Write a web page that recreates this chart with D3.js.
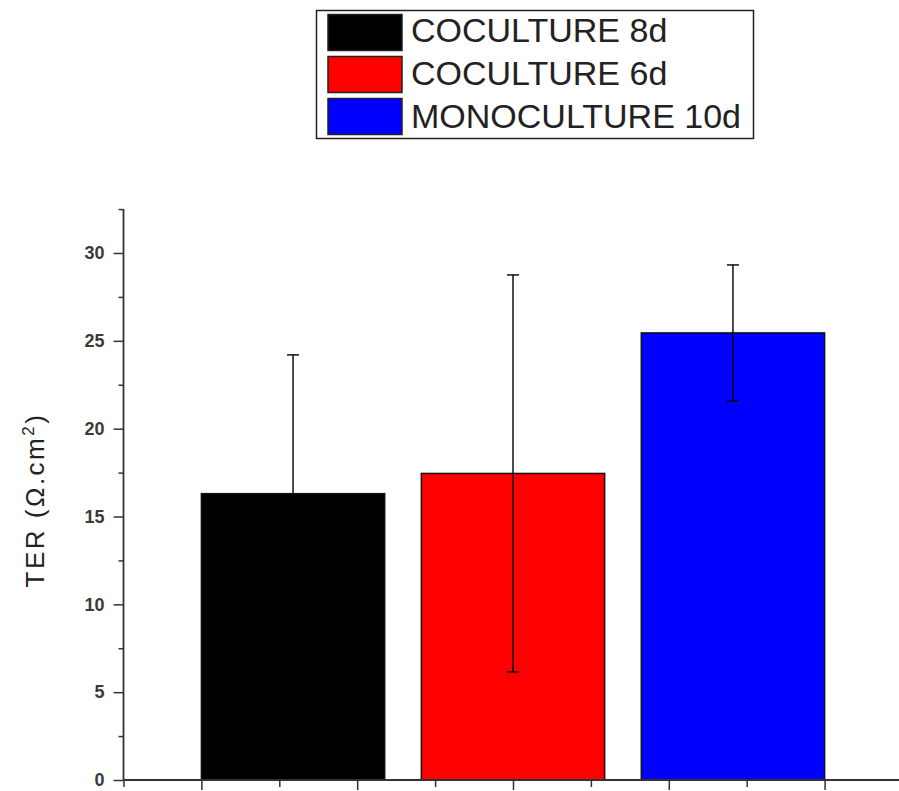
<!DOCTYPE html>
<html>
<head>
<meta charset="utf-8">
<script src="https://cdn.jsdelivr.net/npm/d3@7"></script>
<style>
  html, body { margin: 0; padding: 0; background: #fff; }
  svg { display: block; }
</style>
</head>
<body>
<svg id="chart" width="899" height="791"></svg>
<script>
// ---- data ----
const categories = ["COCULTURE 8d", "COCULTURE 6d", "MONOCULTURE 10d"];
const values = [16.3, 17.45, 25.45];
const errors = [7.9, 11.3, 3.87];
const colors = ["#000000", "#ff0000", "#0000ff"];
const yMajorTicks = [0, 5, 10, 15, 20, 25, 30];
const yMinorTicks = [2.5, 7.5, 12.5, 17.5, 22.5, 27.5, 32.5];
const xMajorTicks = [0, 2, 4, 6, 8];
const xMinorTicks = [-1, 1, 3, 5, 7];

const svg = d3.select("#chart");
const font = "Arial, 'Liberation Sans', Helvetica, sans-serif";
const axisColor = "#333";

// ---- scales ----
const y = d3.scaleLinear().domain([0, 32.5]).range([780, 780 - 32.5 * 17.567]);
const x = d3.scaleLinear().domain([-1, 9]).range([123.5, 123.5 + 10 * 77.9]);
const band = d3.scaleBand().domain(categories).range([x(0), x(8)])
  .paddingInner(1 / 6).paddingOuter(0);

// ---- bars ----
const data = categories.map((c, i) => ({ c, v: values[i], e: errors[i], col: colors[i] }));
svg.append("g").selectAll("rect").data(data).join("rect")
  .attr("x", d => band(d.c))
  .attr("y", d => y(d.v))
  .attr("width", band.bandwidth())
  .attr("height", d => y(0) - y(d.v))
  .attr("fill", d => d.col)
  .attr("stroke", "#111")
  .attr("stroke-width", 1.5);

// ---- error bars ----
const eg = svg.append("g").attr("stroke", "#000").attr("stroke-width", 1.4);
data.forEach(d => {
  const cx = band(d.c) + band.bandwidth() / 2;
  eg.append("line").attr("x1", cx).attr("x2", cx)
    .attr("y1", y(d.v - d.e)).attr("y2", y(d.v + d.e));
  [d.v - d.e, d.v + d.e].forEach(val => {
    eg.append("line").attr("x1", cx - 6).attr("x2", cx + 6)
      .attr("y1", y(val)).attr("y2", y(val));
  });
});

// ---- y axis ----
const yAxisMajor = d3.axisLeft(y).tickValues(yMajorTicks).tickSize(10).tickPadding(9)
  .tickFormat(d3.format("d"));
const yAxisMinor = d3.axisLeft(y).tickValues(yMinorTicks).tickSize(5).tickFormat("");
const gyMin = svg.append("g").attr("transform", `translate(${x(-1)},0)`).call(yAxisMinor);
const gy = svg.append("g").attr("transform", `translate(${x(-1)},0)`).call(yAxisMajor);
[gy, gyMin].forEach(g => {
  g.select(".domain").attr("stroke", axisColor).attr("stroke-width", 1.8);
  g.selectAll(".tick line").attr("stroke", axisColor).attr("stroke-width", 1.5);
});
gyMin.select(".domain").remove();
gy.select(".domain").attr("d", `M0,${y(32.5)}V${y(0)}`);
gy.selectAll(".tick text")
  .attr("font-family", font).attr("font-size", 18).attr("font-weight", "bold")
  .attr("fill", "#3a3a3a");

// ---- x axis ----
const xAxisMajor = d3.axisBottom(x).tickValues(xMajorTicks).tickSize(10).tickFormat("");
const xAxisMinor = d3.axisBottom(x).tickValues(xMinorTicks).tickSize(7).tickFormat("");
const gxMin = svg.append("g").attr("transform", `translate(0,${y(0)})`).call(xAxisMinor);
const gx = svg.append("g").attr("transform", `translate(0,${y(0)})`).call(xAxisMajor);
gxMin.select(".domain").remove();
gx.select(".domain").attr("d", `M${x(-1)},0H${x(9)}`)
  .attr("stroke", axisColor).attr("stroke-width", 1.8);
[gx, gxMin].forEach(g => g.selectAll(".tick line").attr("stroke", axisColor).attr("stroke-width", 1.5));

// ---- y label ----
const yl = svg.append("text")
  .attr("transform", `translate(44,500) rotate(-90)`)
  .attr("text-anchor", "middle")
  .attr("font-family", font).attr("font-size", 26)
  .attr("fill", "#222")
  .attr("letter-spacing", 2.5);
yl.append("tspan").text("TER (Ω.cm");
yl.append("tspan").attr("font-size", 17).attr("dy", -10).text("2");
yl.append("tspan").attr("dy", 10).text(")");

// ---- legend ----
const lg = svg.append("g");
lg.append("rect").attr("x", 316.5).attr("y", 10.5).attr("width", 437).attr("height", 128)
  .attr("fill", "#fff").attr("stroke", "#222").attr("stroke-width", 1.5);
data.forEach((d, i) => {
  lg.append("rect").attr("x", 328).attr("y", 14.5 + i * 42).attr("width", 74).attr("height", 36)
    .attr("fill", d.col).attr("stroke", "#222").attr("stroke-width", 1.5);
  lg.append("text").attr("x", 411).attr("y", 42 + i * 43)
    .attr("font-family", font).attr("font-size", 34).attr("fill", "#222")
    .text(d.c);
});
</script>
</body>
</html>
